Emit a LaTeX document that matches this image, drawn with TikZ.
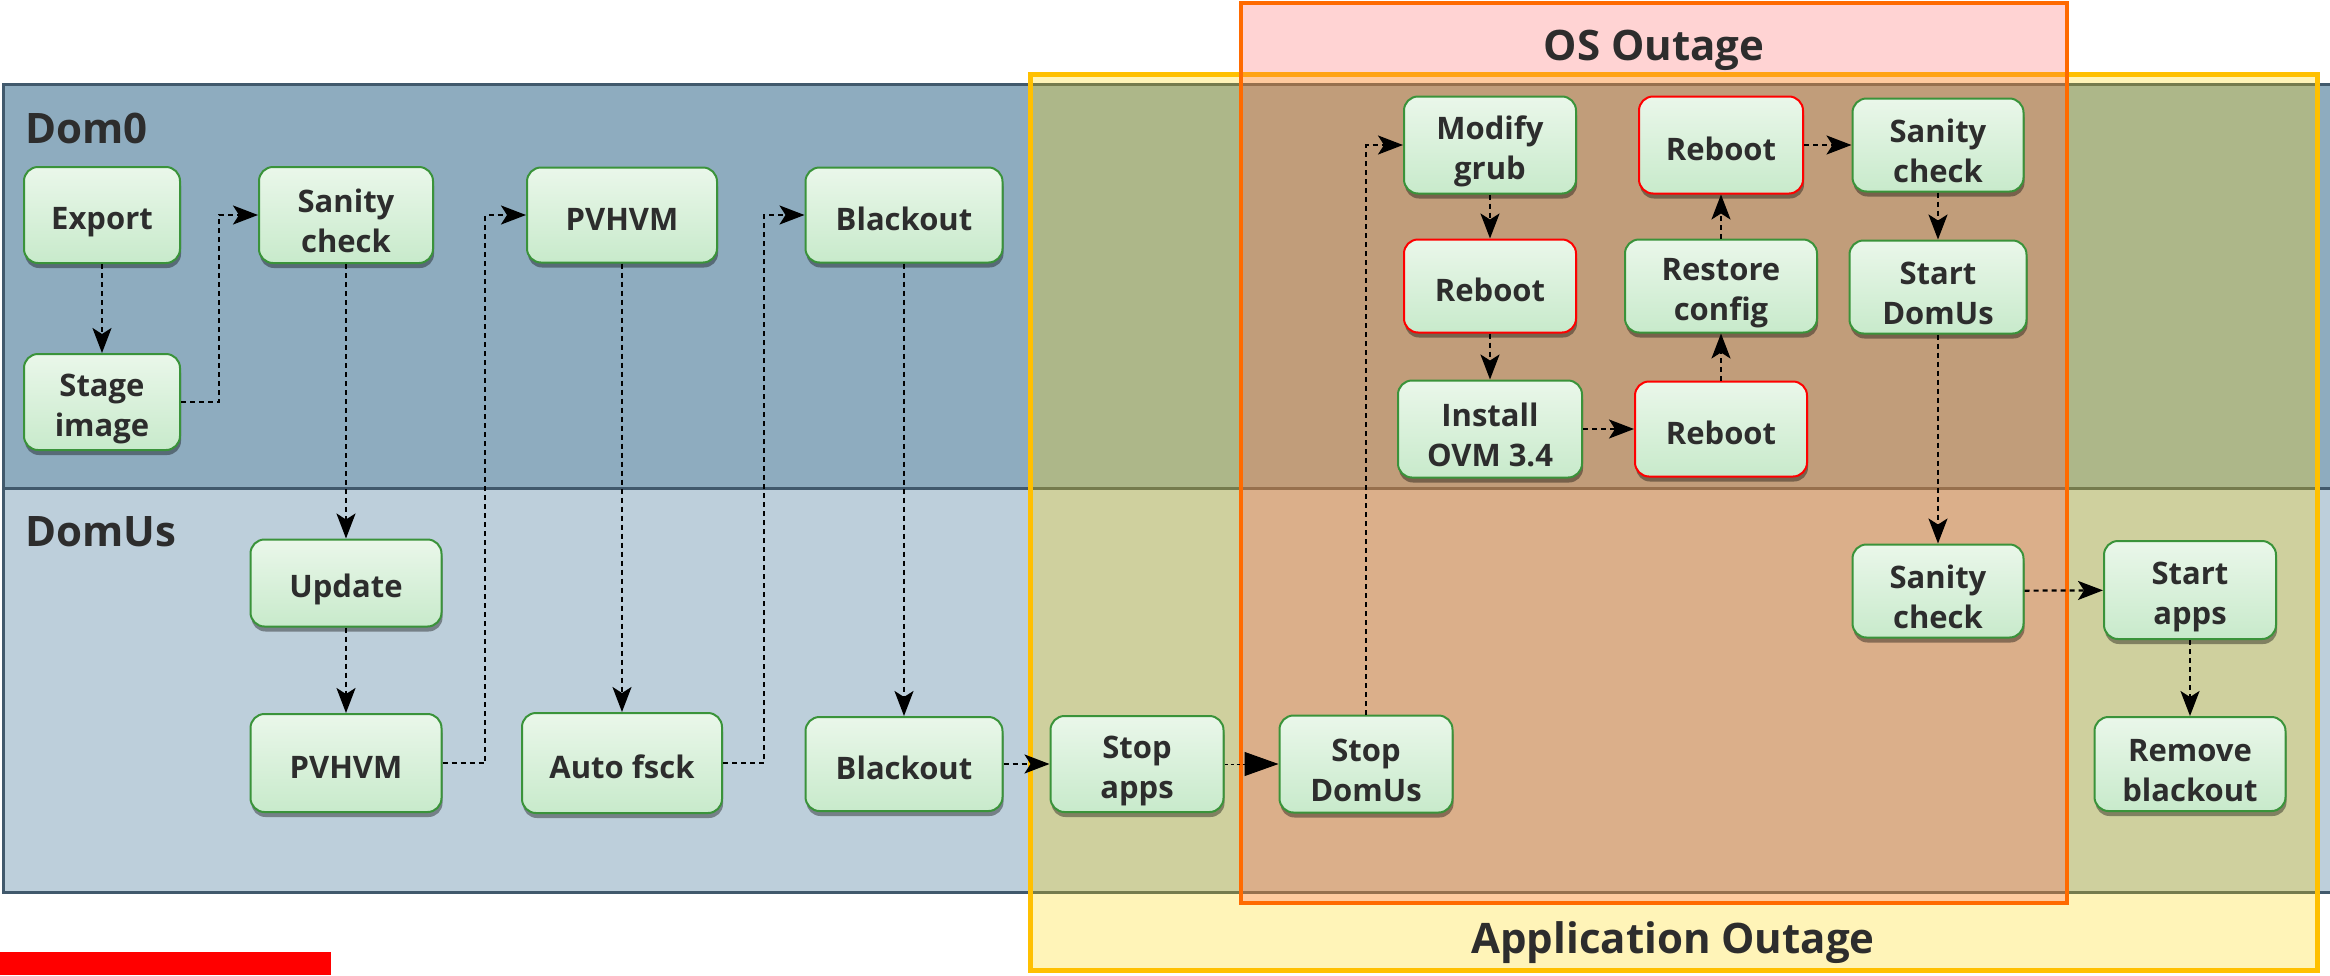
\documentclass[tikz,border=0pt]{standalone}
\usepackage{fontspec}
\setmainfont{Open Sans}
\usetikzlibrary{arrows.meta,shadows}
\definecolor{laneA}{HTML}{8EACBF}
\definecolor{laneB}{HTML}{BDCFDB}
\definecolor{laneline}{HTML}{41596C}
\definecolor{appgold}{RGB}{255,214,0}
\definecolor{appborder}{HTML}{FFC000}
\definecolor{osfill}{RGB}{255,80,80}
\definecolor{osborder}{HTML}{FF6A00}
\definecolor{boxtop}{HTML}{EAF7EA}
\definecolor{boxbot}{HTML}{C8EACB}
\definecolor{boxgreen}{HTML}{3A933A}
\definecolor{txt}{HTML}{2D2D2D}
\newcommand\lift{\rule[-6pt]{0pt}{42pt}}
\tikzset{
  stepbox/.style={rounded corners=14pt, draw=boxgreen, line width=2pt,
    top color=boxtop, bottom color=boxbot, inner sep=0pt, align=center,
    text=txt, font=\bfseries\fontsize{31}{40}\selectfont,
    drop shadow={shadow xshift=1pt, shadow yshift=-5pt, opacity=0.38, fill=black}},
  redbox/.style={stepbox, draw=red},
  conn/.style={line width=2.2pt, dash pattern=on 5pt off 4pt,
    -{Stealth[length=25pt,width=19pt,inset=6pt]}},
  thinconn/.style={line width=1pt, dash pattern=on 3pt off 3pt,
    -{Triangle[length=34pt,width=24pt]}},
  lanelabel/.style={text=txt, font=\bfseries\fontsize{42}{50}\selectfont, inner sep=0pt},
}
\begin{document}
\begin{tikzpicture}[x=1pt,y=-1pt]
\useasboundingbox (0,0) rectangle (2330,975);
% lanes
\draw[fill=laneA, draw=laneline, line width=3pt] (3,84) rectangle (2340,488);
\draw[fill=laneB, draw=laneline, line width=3pt] (3,488) rectangle (2340,892);
\node[lanelabel, anchor=base west] (lab0) at (25,143) {Dom0};
\node[lanelabel, anchor=base west] (labU) at (25,546) {DomUs};
% outage areas
\fill[appgold, opacity=0.28] (1030,74) rectangle (2317,970);
\draw[appborder, line width=5pt] (1030,74) rectangle (2317,970);
\fill[osfill, opacity=0.25] (1241,3) rectangle (2067,903);
\draw[osborder, line width=3.5pt] (1241,3) rectangle (2067,903);
\node[lanelabel, anchor=base] (ostitle) at (1654,60) {OS Outage};
\node[lanelabel, anchor=base] (apptitle) at (1673,953) {Application Outage};
% red bar
\fill[red] (0,952) rectangle (331,975);
% nodes
\node[stepbox, minimum width=156pt, minimum height=96pt] (export) at (102,215) {\lift Export};
\node[stepbox, minimum width=156pt, minimum height=96pt] (stage) at (102,402) {\lift Stage\\image};
\node[stepbox, minimum width=174pt, minimum height=96pt] (san1) at (346,215) {\lift Sanity\\check};
\node[stepbox, minimum width=191pt, minimum height=87pt] (update) at (346,583) {\lift Update};
\node[stepbox, minimum width=191pt, minimum height=98pt] (pvU) at (346,763) {\lift PVHVM};
\node[stepbox, minimum width=190pt, minimum height=95pt] (pv0) at (622,215) {\lift PVHVM};
\node[stepbox, minimum width=200pt, minimum height=100pt] (fsck) at (622,763) {\lift Auto fsck};
\node[stepbox, minimum width=197pt, minimum height=95pt] (bl0) at (904,215) {\lift Blackout};
\node[stepbox, minimum width=197pt, minimum height=94pt] (blU) at (904,764) {\lift Blackout};
\node[stepbox, minimum width=173pt, minimum height=96pt] (stopapps) at (1137,764) {\lift Stop\\apps};
\node[stepbox, minimum width=173pt, minimum height=97pt] (stopdom) at (1366,764) {\lift Stop\\DomUs};
\node[stepbox, minimum width=172pt, minimum height=97pt] (grub) at (1490,145) {\lift Modify\\grub};
\node[redbox, minimum width=172pt, minimum height=93pt] (reb1) at (1490,286) {\lift Reboot};
\node[stepbox, minimum width=184pt, minimum height=97pt] (install) at (1490,429) {\lift Install\\OVM 3.4};
\node[redbox, minimum width=172pt, minimum height=95pt] (rebB) at (1721,429) {\lift Reboot};
\node[stepbox, minimum width=192pt, minimum height=93pt] (restore) at (1721,286) {\lift Restore\\config};
\node[redbox, minimum width=164pt, minimum height=97pt] (rebT) at (1721,145) {\lift Reboot};
\node[stepbox, minimum width=171pt, minimum height=93pt] (san2) at (1938,145) {\lift Sanity\\check};
\node[stepbox, minimum width=177pt, minimum height=93pt] (startdom) at (1938,287) {\lift Start\\DomUs};
\node[stepbox, minimum width=171pt, minimum height=93pt] (san3) at (1938,591) {\lift Sanity\\check};
\node[stepbox, minimum width=172pt, minimum height=98pt] (startapps) at (2190,590) {\lift Start\\apps};
\node[stepbox, minimum width=191pt, minimum height=94pt] (remove) at (2190,764) {\lift Remove\\blackout};
% connectors
\coordinate (c1) at (219,402);
\coordinate (c2) at (485,763);
\coordinate (c3) at (764,763);
\draw[conn] (export) -- (stage);
\draw[conn] (stage.east) -- (c1) |- (san1.west);
\draw[conn] (san1) -- (update);
\draw[conn] (update) -- (pvU);
\draw[conn] (pvU.east) -- (c2) |- (pv0.west);
\draw[conn] (pv0) -- (fsck);
\draw[conn] (fsck.east) -- (c3) |- (bl0.west);
\draw[conn] (bl0) -- (blU);
\draw[conn] (blU) -- (stopapps);
\draw[thinconn] (stopapps) -- (stopdom);
\draw[conn] (stopdom.north) |- (grub.west);
\draw[conn] (grub) -- (reb1);
\draw[conn] (reb1) -- (install);
\draw[conn] (install) -- (rebB);
\draw[conn] (rebB) -- (restore);
\draw[conn] (restore) -- (rebT);
\draw[conn] (rebT) -- (san2);
\draw[conn] (san2) -- (startdom);
\draw[conn] (startdom) -- (san3);
\draw[conn] (san3) -- (startapps);
\draw[conn] (startapps) -- (remove);
\end{tikzpicture}
\end{document}
